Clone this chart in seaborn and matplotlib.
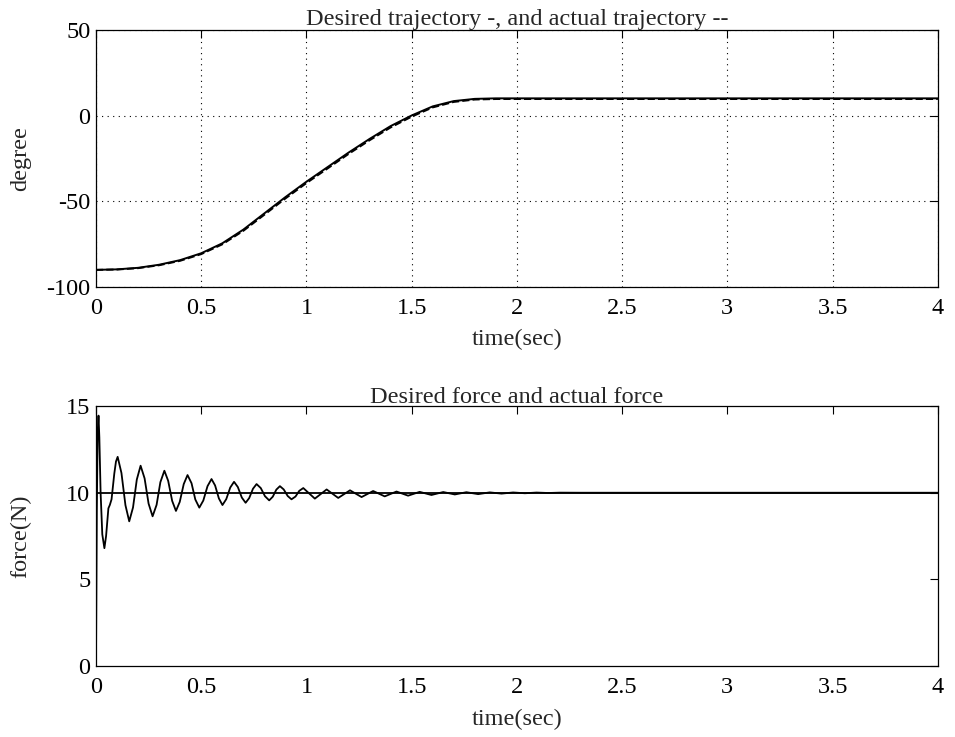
import matplotlib
matplotlib.use("Agg")
import matplotlib.pyplot as plt
import seaborn as sns
import pandas as pd

# trajectory (degree)
t_traj = [0, 0.1, 0.2, 0.3, 0.4, 0.5, 0.6, 0.7, 0.8, 0.9, 1.0, 1.1,
          1.2, 1.3, 1.4, 1.5, 1.6, 1.7, 1.8, 1.9, 2.0, 4.0]
q_desired = [-90, -89.7, -88.8, -87.0, -84.3, -80.3, -74.5, -66.5, -57.0,
             -47.5, -38.5, -30.0, -21.5, -13.5, -6.0, 0.2, 5.5, 8.6, 9.9,
             10.2, 10.2, 10.2]
q_actual = [-90, -89.8, -89.0, -87.3, -84.7, -80.8, -75.1, -67.2, -57.8,
            -48.3, -39.3, -30.8, -22.3, -14.3, -6.8, -0.5, 4.9, 8.1, 9.5,
            9.8, 9.8, 9.8]

# force (N)
t_force = [0, 0.004, 0.008, 0.012, 0.016, 0.022, 0.030, 0.040, 0.048,
           0.059, 0.066, 0.074, 0.080, 0.087, 0.095, 0.103,
           0.121, 0.140, 0.158, 0.176, 0.194, 0.212, 0.231, 0.250, 0.269,
           0.288, 0.306, 0.325, 0.343, 0.362, 0.380, 0.398, 0.417, 0.435,
           0.454, 0.472, 0.491, 0.510, 0.530, 0.549, 0.566, 0.584, 0.601,
           0.619, 0.638, 0.656, 0.674, 0.693, 0.711, 0.728, 0.746, 0.763,
           0.783, 0.803, 0.823, 0.840, 0.857, 0.874, 0.892, 0.911, 0.929,
           0.948, 0.966, 0.985, 1.040, 1.096, 1.151, 1.207, 1.262, 1.317,
           1.372, 1.428, 1.483, 1.538, 1.594, 1.650, 1.705, 1.760, 1.816,
           1.871, 1.927, 1.982, 2.038, 2.093, 2.149, 2.204, 2.300, 4.0]
f_actual = [0, 9.0, 13.5, 14.45, 13.2, 10.0, 7.6, 6.8, 7.5,
            9.1, 9.3, 9.62, 10.3, 11.1, 11.8, 12.07,
            11.14, 9.28, 8.35, 9.15, 10.76, 11.56, 10.83, 9.37, 8.64,
            9.30, 10.61, 11.27, 10.69, 9.53, 8.95, 9.47, 10.50, 11.02,
            10.55, 9.61, 9.14, 9.55, 10.38, 10.79, 10.42, 9.67, 9.29,
            9.63, 10.30, 10.63, 10.33, 9.72, 9.42, 9.69, 10.23, 10.50,
            10.27, 9.80, 9.56, 9.77, 10.18, 10.38, 10.19, 9.81, 9.62,
            9.78, 10.11, 10.27, 9.66, 10.19, 9.70, 10.14, 9.75, 10.10,
            9.79, 10.07, 9.83, 10.05, 9.87, 10.04, 9.90, 10.03, 9.92,
            10.02, 9.95, 10.015, 9.97, 10.01, 9.985, 10.005, 10.0, 10.0]
t_fd = [0, 4.0]
f_desired = [10, 10]

x_ticks = [0, 0.5, 1, 1.5, 2, 2.5, 3, 3.5, 4]
x_labels = ["0", "0.5", "1", "1.5", "2", "2.5", "3", "3.5", "4"]

sns.set_style("white")
plt.rcParams['font.family'] = ['Liberation Serif', 'DejaVu Serif']
plt.rcParams['axes.unicode_minus'] = False
FS = 17.5

fig = plt.figure(figsize=(9.55, 7.37), dpi=100)
ax1 = fig.add_axes([0.1005, 0.6106, 0.8815, 0.3484])
ax2 = fig.add_axes([0.1005, 0.0963, 0.8815, 0.3527])

df_traj = pd.DataFrame({"t": t_traj, "desired": q_desired, "actual": q_actual})
sns.lineplot(data=df_traj, x="t", y="desired", ax=ax1, color="k", lw=1.4,
             estimator=None, sort=False)
sns.lineplot(data=df_traj, x="t", y="actual", ax=ax1, color="k", lw=1.4,
             estimator=None, sort=False, linestyle="--")
ax1.set_ylim(-100, 50)
ax1.set_yticks([-100, -50, 0, 50])
ax1.grid(True, color="k", linestyle=(0, (1, 4)), lw=0.8)
ax1.set_title("Desired trajectory -, and actual trajectory --", fontsize=FS, pad=4)
ax1.set_ylabel("degree", fontsize=FS)

df_f = pd.DataFrame({"t": t_force, "f": f_actual})
df_fd = pd.DataFrame({"t": t_fd, "f": f_desired})
sns.lineplot(data=df_fd, x="t", y="f", ax=ax2, color="k", lw=1.3,
             estimator=None, sort=False)
sns.lineplot(data=df_f, x="t", y="f", ax=ax2, color="k", lw=1.3,
             estimator=None, sort=False)
ax2.set_ylim(0, 15)
ax2.set_yticks([0, 5, 10, 15])
ax2.set_title("Desired force and actual force", fontsize=FS, pad=2.5)
ax2.set_ylabel("force(N)", fontsize=FS)

for ax in (ax1, ax2):
    ax.set_xlim(0, 4)
    ax.set_xticks(x_ticks)
    ax.set_xticklabels(x_labels)
    ax.set_xlabel("time(sec)", fontsize=FS)
    ax.tick_params(direction="in", length=6, width=0.8, top=True, right=True,
                   labelsize=FS, colors="k")
    ax.tick_params(axis="x", pad=8)
    ax.tick_params(axis="y", pad=4)
    for s in ax.spines.values():
        s.set_color("k")
        s.set_linewidth(0.9)
    ax.yaxis.set_label_coords(-0.077, 0.5)
    ax.xaxis.set_label_coords(0.5, -0.165)

fig.savefig("out.png", dpi=100)
